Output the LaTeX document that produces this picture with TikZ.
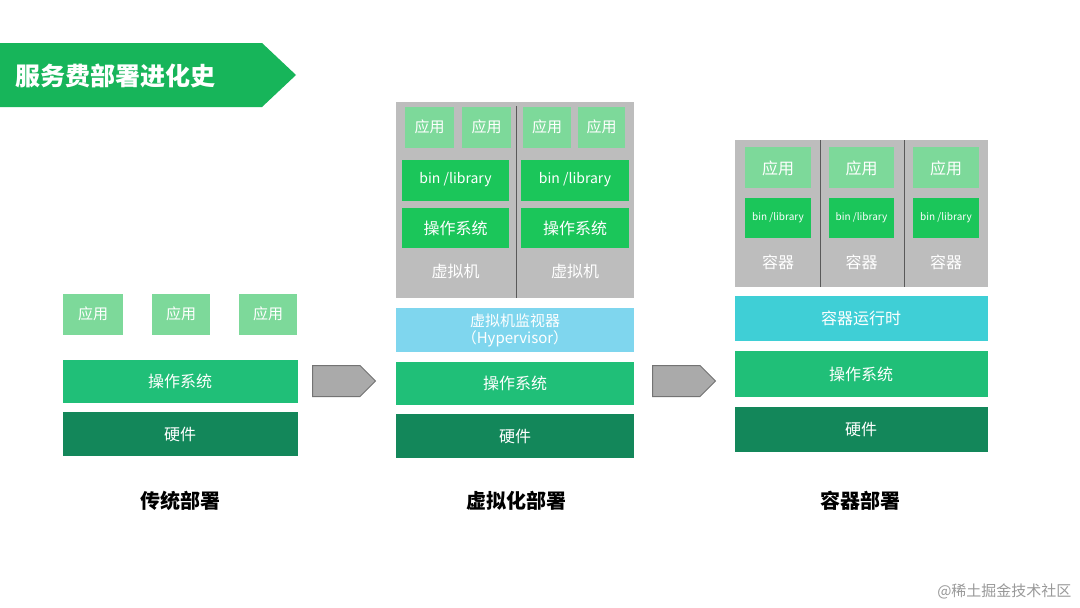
\documentclass[tikz,border=0pt]{standalone}
\usepackage{fontspec}
\setmainfont{Noto Sans CJK SC}
\usetikzlibrary{shapes.arrows}
\definecolor{appc}{HTML}{7DD99A}
\definecolor{binc}{HTML}{1BC65A}
\definecolor{osc}{HTML}{20BF78}
\definecolor{hwc}{HTML}{13875A}
\definecolor{hvc}{HTML}{7FD6EE}
\definecolor{rtc}{HTML}{3FCFD6}
\definecolor{grayc}{HTML}{BDBDBD}
\definecolor{titlec}{HTML}{17B55A}
\tikzset{
  blk/.style={draw=none,minimum width=#1,inner sep=0pt,text=white,font=\fontsize{16}{18}\selectfont},
  lbl/.style={font=\bfseries\fontsize{20}{22}\selectfont,text=black},
  arr/.style={single arrow,draw=gray!90!black,fill=grayc!90!black,minimum height=63pt,minimum width=31pt,single arrow head extend=0pt,inner sep=0pt,line width=1pt},
}
\newcommand{\bx}[6]{\fill[#6] (#2,#3) rectangle (#4,#5); \node[text=white,font=\fontsize{16}{18}\selectfont,align=center] (#1) at ({(#2+#4)/2},{(#3+#5)/2}) {\strut};}
\begin{document}
\begin{tikzpicture}[x=1pt,y=-1pt]
\useasboundingbox (0,0) rectangle (1080,608);
\fill[white] (0,0) rectangle (1080,608);
% title
\fill[titlec] (0,43) -- (262,43) -- (296,75) -- (262,107) -- (0,107) -- cycle;
\node[anchor=west,text=white,font=\bfseries\fontsize{25}{28}\selectfont] (title) at (12,76) {服务费部署进化史};
% left
\foreach \a/\b/\n in {63/123/a1,152/210/a2,239/297/a3}{
  \fill[appc] (\a,294) rectangle (\b,335);
  \node[text=white,font=\fontsize{15}{17}\selectfont] (L\n) at ({(\a+\b)/2},314) {应用};}
\fill[osc] (63,360) rectangle (298,403); \node[text=white,font=\fontsize{16}{18}\selectfont] (Los) at (180,381) {操作系统};
\fill[hwc] (63,412) rectangle (298,456); \node[text=white,font=\fontsize{16}{18}\selectfont] (Lhw) at (180,434) {硬件};
\node[lbl] (Llab) at (180,501) {传统部署};
% arrows
\node[arr,anchor=west] (ar1) at (312,381) {};
\node[arr,anchor=west] (ar2) at (652,381) {};
% middle
\fill[grayc] (396,102) rectangle (634,298);
\draw[gray!70!black,line width=1pt] (516,106) -- (516,298);
\foreach \a/\b in {405/454,462/511,523/571,578/625}{
  \fill[appc] (\a,107) rectangle (\b,148);
  \node[text=white,font=\fontsize{15}{17}\selectfont] at ({(\a+\b)/2},127) {应用};}
\foreach \a/\b in {402/509,521/629}{
  \fill[binc] (\a,160) rectangle (\b,201);
  \node[text=white,font=\fontsize{14}{16}\selectfont] at ({(\a+\b)/2},180) {bin /library};
  \fill[binc] (\a,208) rectangle (\b,248);
  \node[text=white,font=\fontsize{16}{18}\selectfont] at ({(\a+\b)/2},228) {操作系统};
  \node[text=white,font=\fontsize{16}{18}\selectfont] at ({(\a+\b)/2},271) {虚拟机};}
\fill[hvc] (396,308) rectangle (634,352);
\node[text=white,font=\fontsize{15}{17}\selectfont,align=center] (Mhv) at (515,330) {虚拟机监视器\\（Hypervisor）};
\fill[osc] (396,362) rectangle (634,405); \node[text=white,font=\fontsize{16}{18}\selectfont] (Mos) at (515,383) {操作系统};
\fill[hwc] (396,414) rectangle (634,458); \node[text=white,font=\fontsize{16}{18}\selectfont] (Mhw) at (515,436) {硬件};
\node[lbl] (Mlab) at (516,501) {虚拟化部署};
% right
\fill[grayc] (735,140) rectangle (988,287);
\draw[gray!70!black,line width=1pt] (820,140) -- (820,287) (904,140) -- (904,287);
\foreach \a/\b in {745/811,829/894,913/979}{
  \fill[appc] (\a,147) rectangle (\b,188);
  \node[text=white,font=\fontsize{16}{18}\selectfont] at ({(\a+\b)/2},168) {应用};
  \fill[binc] (\a,198) rectangle (\b,238);
  \node[text=white,font=\fontsize{10}{12}\selectfont] at ({(\a+\b)/2},218) {bin /library};
  \node[text=white,font=\fontsize{16}{18}\selectfont] at ({(\a+\b)/2},262) {容器};}
\fill[rtc] (735,296) rectangle (988,341); \node[text=white,font=\fontsize{16}{18}\selectfont] (Rrt) at (861,318) {容器运行时};
\fill[osc] (735,351) rectangle (988,397); \node[text=white,font=\fontsize{16}{18}\selectfont] (Ros) at (861,374) {操作系统};
\fill[hwc] (735,407) rectangle (988,452); \node[text=white,font=\fontsize{16}{18}\selectfont] (Rhw) at (861,429) {硬件};
\node[lbl] (Rlab) at (860,501) {容器部署};
\node[text=gray!80,font=\fontsize{15}{17}\selectfont,anchor=east] (wm) at (1075,591) {@稀土掘金技术社区};
\end{tikzpicture}
\end{document}
